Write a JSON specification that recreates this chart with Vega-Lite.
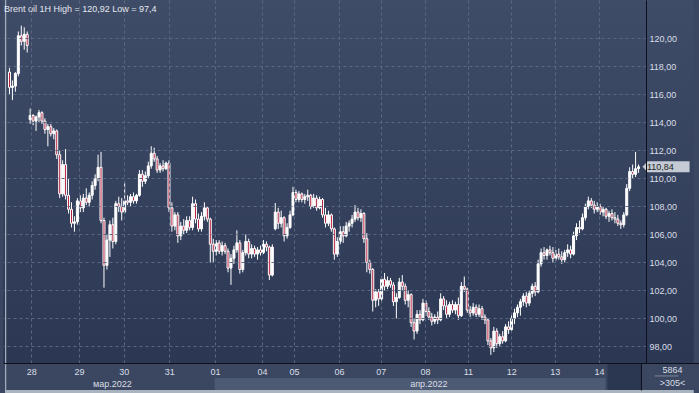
{
"$schema": "https://vega.github.io/schema/vega-lite/v6.json",
"width": 643, "height": 363,
"autosize": {"type": "none"},
"padding": {"left": 3, "top": 0, "right": 53, "bottom": 30},
"background": "#3b4760",
"title": {"text": "Brent oil 1H High = 120,92 Low = 97,4", "anchor": "start", "frame": "group", "orient": "top", "baseline": "bottom", "offset": -13, "dx": 1, "dy": 10, "fontSize": 9, "fontWeight": "normal", "font": "Liberation Sans", "color": "#e4e8ee"},
"datasets": {
"candles": [
{"i":0,"o":117.6,"h":117.9,"l":116.0,"c":116.5},
{"i":1,"o":116.5,"h":117.0,"l":115.6,"c":116.6},
{"i":2,"o":116.6,"h":117.6,"l":116.2,"c":117.5},
{"i":3,"o":117.5,"h":120.5,"l":117.3,"c":120.2},
{"i":4,"o":120.2,"h":120.92,"l":119.5,"c":119.8},
{"i":5,"o":119.8,"h":120.8,"l":119.2,"c":120.3},
{"i":6,"o":120.3,"h":120.5,"l":119.0,"c":119.5},
{"i":7,"o":114.2,"h":115.0,"l":113.9,"c":114.5},
{"i":8,"o":114.5,"h":114.6,"l":113.8,"c":114.1},
{"i":9,"o":114.1,"h":114.5,"l":113.4,"c":114.4},
{"i":10,"o":114.4,"h":114.9,"l":114.0,"c":114.7},
{"i":11,"o":114.7,"h":114.8,"l":113.9,"c":114.1},
{"i":12,"o":114.1,"h":114.3,"l":113.2,"c":113.5},
{"i":13,"o":113.5,"h":113.9,"l":112.3,"c":113.7},
{"i":14,"o":113.7,"h":113.9,"l":113.0,"c":113.2},
{"i":15,"o":113.2,"h":113.6,"l":112.8,"c":113.4},
{"i":16,"o":113.4,"h":113.5,"l":111.4,"c":111.7},
{"i":17,"o":111.7,"h":112.0,"l":108.6,"c":108.9},
{"i":18,"o":108.9,"h":111.3,"l":108.7,"c":111.0},
{"i":19,"o":111.0,"h":112.1,"l":108.5,"c":108.8},
{"i":20,"o":108.8,"h":110.0,"l":107.5,"c":107.8},
{"i":21,"o":107.8,"h":108.3,"l":106.5,"c":106.8},
{"i":22,"o":106.8,"h":107.3,"l":106.2,"c":106.9},
{"i":23,"o":106.9,"h":108.6,"l":106.7,"c":108.4},
{"i":24,"o":108.4,"h":108.8,"l":107.6,"c":107.9},
{"i":25,"o":107.9,"h":108.9,"l":107.6,"c":108.6},
{"i":26,"o":108.6,"h":109.3,"l":108.1,"c":108.3},
{"i":27,"o":108.3,"h":109.0,"l":108.0,"c":108.8},
{"i":28,"o":108.8,"h":109.8,"l":108.5,"c":109.5},
{"i":29,"o":109.5,"h":110.3,"l":109.2,"c":110.0},
{"i":30,"o":110.0,"h":111.7,"l":109.8,"c":110.8},
{"i":31,"o":110.8,"h":111.9,"l":106.8,"c":107.0},
{"i":32,"o":107.0,"h":107.2,"l":102.2,"c":103.8},
{"i":33,"o":103.8,"h":106.0,"l":103.5,"c":105.6},
{"i":34,"o":105.6,"h":107.0,"l":104.4,"c":106.7},
{"i":35,"o":106.7,"h":107.2,"l":105.0,"c":105.5},
{"i":36,"o":105.5,"h":108.4,"l":105.3,"c":108.2},
{"i":37,"o":108.2,"h":108.7,"l":107.6,"c":108.0},
{"i":38,"o":108.0,"h":108.6,"l":107.0,"c":107.6},
{"i":39,"o":107.6,"h":109.7,"l":107.5,"c":108.4},
{"i":40,"o":108.4,"h":108.8,"l":108.1,"c":108.3},
{"i":41,"o":108.3,"h":108.9,"l":108.0,"c":108.7},
{"i":42,"o":108.7,"h":109.0,"l":108.2,"c":108.4},
{"i":43,"o":108.4,"h":108.9,"l":108.2,"c":108.8},
{"i":44,"o":108.8,"h":110.6,"l":108.7,"c":110.3},
{"i":45,"o":110.3,"h":110.6,"l":109.4,"c":109.8},
{"i":46,"o":109.8,"h":110.5,"l":109.6,"c":110.2},
{"i":47,"o":110.2,"h":111.2,"l":110.0,"c":110.9},
{"i":48,"o":110.9,"h":112.3,"l":110.7,"c":111.8},
{"i":49,"o":111.8,"h":112.2,"l":111.2,"c":111.4},
{"i":50,"o":111.4,"h":111.6,"l":110.4,"c":110.6},
{"i":51,"o":110.6,"h":111.1,"l":110.4,"c":110.9},
{"i":52,"o":110.9,"h":111.3,"l":110.5,"c":110.7},
{"i":53,"o":110.7,"h":111.2,"l":110.6,"c":111.1},
{"i":54,"o":111.1,"h":111.3,"l":107.6,"c":107.9},
{"i":55,"o":107.9,"h":108.3,"l":106.2,"c":106.6},
{"i":56,"o":106.6,"h":107.6,"l":106.3,"c":107.4},
{"i":57,"o":107.4,"h":107.6,"l":105.4,"c":105.9},
{"i":58,"o":105.9,"h":106.9,"l":105.6,"c":106.6},
{"i":59,"o":106.6,"h":107.1,"l":106.0,"c":106.3},
{"i":60,"o":106.3,"h":107.3,"l":106.1,"c":107.0},
{"i":61,"o":107.0,"h":107.3,"l":106.3,"c":106.5},
{"i":62,"o":106.5,"h":108.7,"l":106.3,"c":108.2},
{"i":63,"o":108.2,"h":108.5,"l":106.8,"c":107.1},
{"i":64,"o":107.1,"h":107.5,"l":106.2,"c":106.4},
{"i":65,"o":106.4,"h":107.6,"l":106.2,"c":107.3},
{"i":66,"o":107.3,"h":108.3,"l":107.0,"c":107.9},
{"i":67,"o":107.9,"h":108.0,"l":106.9,"c":107.1},
{"i":68,"o":107.1,"h":107.2,"l":104.0,"c":105.3},
{"i":69,"o":105.3,"h":105.7,"l":104.0,"c":104.8},
{"i":70,"o":104.8,"h":105.6,"l":104.5,"c":105.4},
{"i":71,"o":105.4,"h":105.6,"l":104.6,"c":104.8},
{"i":72,"o":104.8,"h":105.5,"l":104.5,"c":105.2},
{"i":73,"o":105.2,"h":105.4,"l":104.6,"c":104.8},
{"i":74,"o":104.8,"h":105.0,"l":103.3,"c":103.6},
{"i":75,"o":103.6,"h":104.6,"l":102.4,"c":104.3},
{"i":76,"o":104.3,"h":105.2,"l":103.9,"c":104.9},
{"i":77,"o":104.9,"h":106.3,"l":104.7,"c":105.4},
{"i":78,"o":105.4,"h":105.6,"l":103.2,"c":103.5},
{"i":79,"o":103.5,"h":104.9,"l":103.3,"c":104.7},
{"i":80,"o":104.7,"h":106.0,"l":104.5,"c":105.5},
{"i":81,"o":105.5,"h":105.7,"l":104.3,"c":104.6},
{"i":82,"o":104.6,"h":105.3,"l":104.3,"c":105.0},
{"i":83,"o":105.0,"h":105.2,"l":104.4,"c":104.6},
{"i":84,"o":104.6,"h":105.1,"l":104.2,"c":104.9},
{"i":85,"o":104.9,"h":105.2,"l":104.5,"c":104.7},
{"i":86,"o":104.7,"h":105.6,"l":104.6,"c":105.3},
{"i":87,"o":105.3,"h":105.5,"l":104.8,"c":105.1},
{"i":88,"o":105.1,"h":105.2,"l":102.75,"c":103.1},
{"i":89,"o":103.1,"h":105.3,"l":103.0,"c":105.1},
{"i":90,"o":106.4,"h":108.25,"l":106.3,"c":107.6},
{"i":91,"o":107.6,"h":107.9,"l":106.4,"c":106.8},
{"i":92,"o":106.8,"h":107.7,"l":106.5,"c":107.2},
{"i":93,"o":107.2,"h":107.3,"l":105.5,"c":105.9},
{"i":94,"o":105.9,"h":106.8,"l":105.7,"c":106.5},
{"i":95,"o":106.5,"h":107.7,"l":106.4,"c":107.4},
{"i":96,"o":107.4,"h":109.4,"l":107.3,"c":109.0},
{"i":97,"o":109.0,"h":109.2,"l":108.3,"c":108.5},
{"i":98,"o":108.5,"h":109.1,"l":108.3,"c":108.9},
{"i":99,"o":108.9,"h":109.0,"l":108.3,"c":108.5},
{"i":100,"o":108.5,"h":108.9,"l":108.2,"c":108.7},
{"i":101,"o":108.7,"h":109.2,"l":108.4,"c":108.8},
{"i":102,"o":108.8,"h":108.9,"l":107.8,"c":108.0},
{"i":103,"o":108.0,"h":108.9,"l":107.9,"c":108.6},
{"i":104,"o":108.6,"h":108.8,"l":107.7,"c":107.9},
{"i":105,"o":107.9,"h":108.7,"l":107.8,"c":108.5},
{"i":106,"o":108.5,"h":108.6,"l":107.2,"c":107.4},
{"i":107,"o":107.4,"h":107.9,"l":106.5,"c":106.8},
{"i":108,"o":106.8,"h":107.7,"l":106.6,"c":107.4},
{"i":109,"o":107.4,"h":107.5,"l":106.2,"c":106.4},
{"i":110,"o":106.4,"h":106.5,"l":104.2,"c":104.6},
{"i":111,"o":104.6,"h":105.8,"l":104.4,"c":105.5},
{"i":112,"o":105.5,"h":106.6,"l":105.3,"c":106.2},
{"i":113,"o":106.2,"h":106.6,"l":105.4,"c":105.9},
{"i":114,"o":105.9,"h":106.9,"l":105.8,"c":106.6},
{"i":115,"o":106.6,"h":107.0,"l":106.2,"c":106.8},
{"i":116,"o":106.8,"h":107.4,"l":106.5,"c":107.1},
{"i":117,"o":107.1,"h":108.1,"l":106.9,"c":107.6},
{"i":118,"o":107.6,"h":107.9,"l":107.0,"c":107.2},
{"i":119,"o":107.2,"h":107.8,"l":106.9,"c":107.5},
{"i":120,"o":107.5,"h":107.6,"l":105.4,"c":105.7},
{"i":121,"o":105.7,"h":106.1,"l":103.3,"c":104.0},
{"i":122,"o":104.0,"h":104.2,"l":103.2,"c":103.5},
{"i":123,"o":103.5,"h":103.6,"l":100.5,"c":101.3},
{"i":124,"o":101.3,"h":102.1,"l":100.8,"c":101.9},
{"i":125,"o":101.9,"h":102.1,"l":100.9,"c":101.4},
{"i":126,"o":101.4,"h":103.0,"l":101.2,"c":102.8},
{"i":127,"o":102.8,"h":103.25,"l":102.0,"c":102.3},
{"i":128,"o":102.3,"h":103.0,"l":102.1,"c":102.7},
{"i":129,"o":102.7,"h":102.9,"l":102.2,"c":102.4},
{"i":130,"o":102.4,"h":102.6,"l":100.9,"c":101.2},
{"i":131,"o":101.2,"h":101.8,"l":100.0,"c":101.5},
{"i":132,"o":101.5,"h":102.9,"l":101.4,"c":102.6},
{"i":133,"o":102.6,"h":103.1,"l":102.0,"c":102.3},
{"i":134,"o":102.3,"h":102.5,"l":101.0,"c":101.3},
{"i":135,"o":101.3,"h":102.0,"l":100.8,"c":101.7},
{"i":136,"o":101.7,"h":101.8,"l":99.4,"c":99.7},
{"i":137,"o":99.7,"h":100.0,"l":98.5,"c":99.1},
{"i":138,"o":99.1,"h":100.6,"l":98.9,"c":100.3},
{"i":139,"o":100.3,"h":100.6,"l":99.6,"c":99.9},
{"i":140,"o":99.9,"h":101.4,"l":99.8,"c":101.1},
{"i":141,"o":101.1,"h":101.3,"l":100.2,"c":100.5},
{"i":142,"o":100.5,"h":100.8,"l":99.9,"c":100.1},
{"i":143,"o":100.1,"h":100.4,"l":99.5,"c":99.8},
{"i":144,"o":99.8,"h":100.3,"l":99.6,"c":100.1},
{"i":145,"o":100.1,"h":100.5,"l":99.6,"c":99.9},
{"i":146,"o":99.9,"h":101.8,"l":99.8,"c":101.4},
{"i":147,"o":101.4,"h":101.6,"l":100.6,"c":100.9},
{"i":148,"o":100.9,"h":101.3,"l":100.0,"c":100.3},
{"i":149,"o":100.3,"h":101.2,"l":100.1,"c":101.0},
{"i":150,"o":101.0,"h":101.3,"l":100.4,"c":100.6},
{"i":151,"o":100.6,"h":101.2,"l":100.3,"c":101.0},
{"i":152,"o":101.0,"h":101.5,"l":99.9,"c":100.2},
{"i":153,"o":100.2,"h":102.6,"l":100.1,"c":102.3},
{"i":154,"o":102.3,"h":103.0,"l":101.9,"c":102.1},
{"i":155,"o":102.1,"h":102.2,"l":100.4,"c":100.6},
{"i":156,"o":100.6,"h":100.9,"l":100.1,"c":100.4},
{"i":157,"o":100.4,"h":101.1,"l":100.2,"c":100.8},
{"i":158,"o":100.8,"h":101.0,"l":100.1,"c":100.3},
{"i":159,"o":100.3,"h":101.0,"l":100.1,"c":100.7},
{"i":160,"o":100.7,"h":100.9,"l":99.9,"c":100.1},
{"i":161,"o":100.1,"h":100.3,"l":99.6,"c":99.9},
{"i":162,"o":99.9,"h":100.0,"l":98.1,"c":98.4},
{"i":163,"o":98.4,"h":98.6,"l":97.4,"c":97.9},
{"i":164,"o":97.9,"h":99.4,"l":97.6,"c":99.1},
{"i":165,"o":99.1,"h":99.3,"l":97.9,"c":98.2},
{"i":166,"o":98.2,"h":98.9,"l":98.0,"c":98.7},
{"i":167,"o":98.7,"h":99.1,"l":98.2,"c":98.4},
{"i":168,"o":98.4,"h":99.6,"l":98.3,"c":99.4},
{"i":169,"o":99.4,"h":99.8,"l":98.9,"c":99.2},
{"i":170,"o":99.2,"h":100.3,"l":99.1,"c":100.0},
{"i":171,"o":100.0,"h":100.7,"l":99.6,"c":100.4},
{"i":172,"o":100.4,"h":101.0,"l":100.1,"c":100.8},
{"i":173,"o":100.8,"h":101.4,"l":100.2,"c":101.2},
{"i":174,"o":101.2,"h":101.8,"l":100.9,"c":101.6},
{"i":175,"o":101.6,"h":101.9,"l":100.8,"c":101.1},
{"i":176,"o":101.1,"h":102.0,"l":100.9,"c":101.8},
{"i":177,"o":101.8,"h":102.5,"l":101.5,"c":102.3},
{"i":178,"o":102.3,"h":102.6,"l":101.6,"c":101.9},
{"i":179,"o":101.9,"h":104.2,"l":101.8,"c":103.9},
{"i":180,"o":103.9,"h":105.0,"l":103.7,"c":104.7},
{"i":181,"o":104.7,"h":105.1,"l":104.2,"c":104.5},
{"i":182,"o":104.5,"h":105.0,"l":104.2,"c":104.9},
{"i":183,"o":104.9,"h":105.2,"l":104.5,"c":104.7},
{"i":184,"o":104.7,"h":105.1,"l":104.0,"c":104.3},
{"i":185,"o":104.3,"h":104.9,"l":104.1,"c":104.6},
{"i":186,"o":104.6,"h":105.0,"l":104.2,"c":104.4},
{"i":187,"o":104.4,"h":104.8,"l":103.9,"c":104.2},
{"i":188,"o":104.2,"h":104.9,"l":104.0,"c":104.7},
{"i":189,"o":104.7,"h":105.3,"l":104.4,"c":104.9},
{"i":190,"o":104.9,"h":105.2,"l":104.3,"c":104.6},
{"i":191,"o":104.6,"h":106.2,"l":104.5,"c":105.9},
{"i":192,"o":105.9,"h":106.8,"l":105.6,"c":106.5},
{"i":193,"o":106.5,"h":107.0,"l":106.1,"c":106.4},
{"i":194,"o":106.4,"h":107.5,"l":106.3,"c":107.2},
{"i":195,"o":107.2,"h":108.2,"l":107.0,"c":108.0},
{"i":196,"o":108.0,"h":108.7,"l":107.8,"c":108.4},
{"i":197,"o":108.4,"h":108.6,"l":107.9,"c":108.1},
{"i":198,"o":108.1,"h":108.4,"l":107.5,"c":107.8},
{"i":199,"o":107.8,"h":108.3,"l":107.6,"c":108.0},
{"i":200,"o":108.0,"h":108.2,"l":107.4,"c":107.6},
{"i":201,"o":107.6,"h":108.0,"l":107.3,"c":107.8},
{"i":202,"o":107.8,"h":107.9,"l":107.1,"c":107.3},
{"i":203,"o":107.3,"h":107.7,"l":106.9,"c":107.5},
{"i":204,"o":107.5,"h":107.8,"l":107.0,"c":107.2},
{"i":205,"o":107.2,"h":107.6,"l":106.8,"c":107.1},
{"i":206,"o":107.1,"h":107.4,"l":106.6,"c":106.8},
{"i":207,"o":106.8,"h":107.0,"l":106.4,"c":106.7},
{"i":208,"o":106.7,"h":107.6,"l":106.5,"c":107.4},
{"i":209,"o":107.4,"h":109.6,"l":107.3,"c":109.3},
{"i":210,"o":109.3,"h":110.8,"l":109.1,"c":110.5},
{"i":211,"o":110.5,"h":111.0,"l":110.0,"c":110.3},
{"i":212,"o":110.3,"h":111.9,"l":110.1,"c":110.7},
{"i":213,"o":110.7,"h":111.0,"l":110.4,"c":110.84}
],
"last": [{"price": 110.84, "label": "110,84"}]
},
"layer": [
{"data": {"values": [{}]},
 "mark": {"type": "rect", "color": {"x1": 0, "y1": 0, "x2": 0, "y2": 1, "gradient": "linear", "stops": [{"offset": 0, "color": "#3f4c68"}, {"offset": 1, "color": "#2c3853"}]}},
 "encoding": {"x": {"datum": 213.8333, "type": "quantitative"}, "x2": {"datum": 231.7}, "y": {"datum": 122.75, "type": "quantitative"}, "y2": {"datum": 96.82}}},
{"data": {"values": [{}]},
 "mark": {"type": "rect", "color": "#4d5a74"},
 "encoding": {"x": {"datum": 69.5, "type": "quantitative"}, "x2": {"datum": 201.83}, "y": {"datum": 95.75, "type": "quantitative"}, "y2": {"datum": 94.89}}},
{"data": {"values": [{}]},
 "mark": {"type": "rect", "color": "#2b3651"},
 "encoding": {"x": {"datum": 202.5, "type": "quantitative"}, "x2": {"datum": 213.8333}, "y": {"datum": 96.82, "type": "quantitative"}, "y2": {"datum": 94.89}}},
{"data": {"values": [{}]},
 "mark": {"type": "rect", "color": "#aab3c0"},
 "encoding": {"x": {"datum": -1.5, "type": "quantitative"}, "x2": {"datum": 231.7}, "y": {"datum": 94.89, "type": "quantitative"}, "y2": {"datum": 94.6}}},
{"data": {"values": [{}]},
 "mark": {"type": "rect", "color": "#aab3c0"},
 "encoding": {"x": {"datum": -1.5, "type": "quantitative"}, "x2": {"datum": -1.1}, "y": {"datum": 122.75, "type": "quantitative"}, "y2": {"datum": 94.6}}},
{"data": {"values": [{}]},
 "mark": {"type": "rect", "color": "#7f8aa0"},
 "encoding": {"x": {"datum": 218.5, "type": "quantitative"}, "x2": {"datum": 226.5}, "y": {"datum": 95.93, "type": "quantitative"}, "y2": {"datum": 95.86}}},
{"data": {"name": "candles"},
 "mark": {"type": "rule", "color": "#ffffff", "strokeWidth": 1},
 "encoding": {
  "x": {"field": "i", "type": "quantitative",
   "scale": {"domain": [-0.5, 213.8333], "nice": false, "zero": false},
   "axis": {"orient": "bottom", "title": null, "tickCount": 40,
    "values": [7.4, 23.5, 38.7, 54.1, 69.6, 85.5, 96.3, 111.6, 125.7, 140.7, 155.2, 169.9, 184.6, 199.6, 34.67, 141.83, 213.8333],
    "labelExpr": "datum.value == 34.67 ? ['', 'мар.2022'] : datum.value == 141.83 ? ['', 'апр.2022'] : datum.value > 213 ? '' : ['28','29','30','31','01','04','05','06','07','08','11','12','13','14'][indexof([7.4, 23.5, 38.7, 54.1, 69.6, 85.5, 96.3, 111.6, 125.7, 140.7, 155.2, 169.9, 184.6, 199.6], datum.value)]",
    "labelFont": "Liberation Sans", "labelFontSize": 9, "labelColor": "#d9dee6",
    "labelPadding": -23, "labelLineHeight": 12, "labelOverlap": false, "labelBound": false, "labelFlush": false,
    "labelAlign": "center", "labelBaseline": "top",
    "tickSize": 27, "tickWidth": 1, "tickColor": {"condition": {"test": "datum.value > 213", "value": "#0c1019"}, "value": "transparent"},
    "domainColor": "#0c1019", "domainWidth": 1,
    "grid": true, "gridColor": "#5b6884", "gridDash": [3, 3], "gridWidth": 1,
    "gridOpacity": {"condition": {"test": "datum.value == 34.67 || datum.value == 141.83 || datum.value > 213", "value": 0}, "value": 1},
    "zindex": 1}},
  "y": {"field": "l", "type": "quantitative",
   "scale": {"domain": [96.82, 122.75], "nice": false, "zero": false},
   "axis": {"orient": "right", "tickCount": 40,
    "values": [96.82, 98, 100, 102, 104, 106, 108, 110, 112, 114, 116, 118, 120],
    "labelExpr": "datum.value < 97 ? '' : replace(format(datum.value, '.2f'), '.', ',')",
    "labelFont": "Liberation Sans", "labelFontSize": 9, "labelColor": "#d9dee6",
    "labelPadding": -50, "labelAlign": "left", "labelBaseline": "middle", "labelOverlap": false, "labelBound": false, "labelFlush": false,
    "tickSize": 53, "tickWidth": 1, "tickColor": {"condition": {"test": "datum.value < 97", "value": "#0c1019"}, "value": "transparent"},
    "domainColor": "#0c1019", "domainWidth": 1,
    "grid": true, "gridColor": "#5b6884", "gridDash": [3, 3], "gridWidth": 1,
    "gridOpacity": {"condition": {"test": "datum.value < 97", "value": 0}, "value": 1},
    "title": ["5864", ">305<"], "titleAngle": 0, "titleX": 26, "titleY": 365, "titleAlign": "center", "titleBaseline": "top",
    "titleFont": "Liberation Sans", "titleFontSize": 9, "titleFontWeight": "normal", "titleColor": "#d9dee6", "titleLineHeight": 13,
    "zindex": 1}},
  "y2": {"field": "h"}}},
{"data": {"name": "candles"},
 "mark": {"type": "bar", "orient": "vertical", "size": 2, "stroke": "#ffffff", "strokeWidth": 1},
 "encoding": {
  "x": {"field": "i", "type": "quantitative"},
  "y": {"field": "o", "type": "quantitative"},
  "y2": {"field": "c"},
  "fill": {"condition": {"test": "datum.c < datum.o", "value": "#b8203f"}, "value": "#ffffff"}}},
{"data": {"name": "last"},
 "mark": {"type": "point", "shape": "M-1,0L-0.79,-0.234L1,-0.234L1,0.234L-0.79,0.234Z", "filled": true, "fill": "#c5cbd4", "size": 2209, "opacity": 1, "strokeWidth": 0},
 "encoding": {"x": {"datum": 222.33, "type": "quantitative"}, "y": {"field": "price", "type": "quantitative"}}},
{"data": {"name": "last"},
 "mark": {"type": "text", "align": "left", "baseline": "middle", "font": "Liberation Sans", "fontSize": 9, "color": "#1c1f26"},
 "encoding": {"x": {"datum": 215.83, "type": "quantitative"}, "y": {"field": "price", "type": "quantitative"}, "text": {"field": "label"}}}
],
"config": {
 "view": {"stroke": null, "fill": {"x1": 0, "y1": 0, "x2": 0, "y2": 1, "gradient": "linear", "stops": [{"offset": 0, "color": "#3f4c68"}, {"offset": 1, "color": "#2c3853"}]}},
 "font": "Liberation Sans"
}
}
